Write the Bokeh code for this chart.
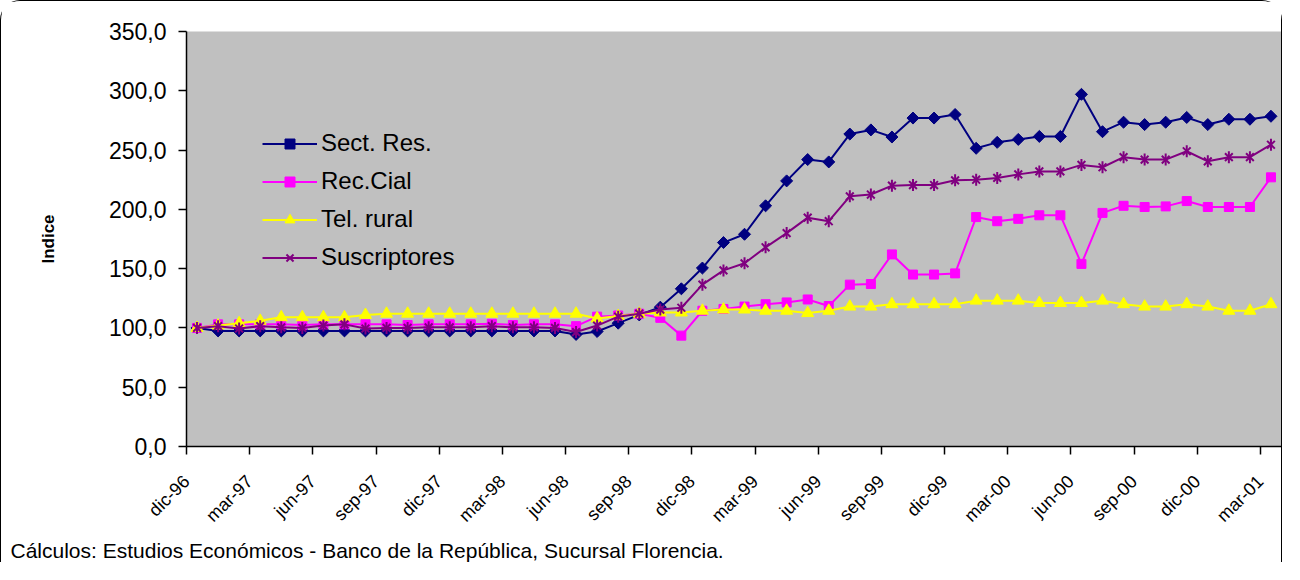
import math
from bokeh.plotting import figure
from bokeh.models import (Range1d, FixedTicker, LinearAxis, Legend, LegendItem, Title)
from bokeh.embed import file_html
from bokeh.resources import INLINE

# ---------------- data (monthly index, dic-96 .. mar-01) ----------------
sect_res = [100, 97.5, 97.5, 97.5, 97.5, 97.5, 97.5, 97.5, 97.5, 97.5,
            97.5, 97.5, 97.5, 97.5, 97.5, 97.5, 97.5, 97.5, 94.5, 97,
            104, 111, 117.5, 133, 150.5, 172, 179, 203, 224, 242,
            240, 263.5, 267, 261, 277, 277, 280, 251.5, 256.5, 259,
            261.5, 261.5, 297, 265.5, 273.5, 271.5, 273.5, 277.5, 271.5, 276,
            276, 278.5]
rec_cial = [100, 103, 103, 103, 103, 102.5, 103, 103, 103, 103,
            102.5, 103, 103, 103, 103.5, 102.5, 103, 103, 101.5, 109.5,
            110.5, 112, 108.5, 93.5, 114.5, 116, 118, 120, 121.5, 124,
            118.5, 136.5, 137, 162, 145, 145, 146, 193.5, 190, 192,
            195, 195, 154, 197, 203, 202, 202.5, 207, 202, 202,
            202, 227]
tel_rural = [100, 102, 104, 106, 109, 109, 109, 109, 111, 112,
             112, 112, 112, 112, 112, 112, 112, 112, 112, 108,
             110, 112, 113, 113, 114.5, 115.5, 115.5, 114.5, 114.5, 112.5,
             114.5, 118, 118, 120, 120, 120, 120, 123, 123, 123,
             121, 121, 121, 123, 120, 118, 118, 120, 118, 114.5,
             114.5, 120]
suscriptores = [100, 101.5, 99.5, 101.5, 100.5, 100, 102, 103, 99.5, 100,
                100, 100.5, 100.5, 100.5, 101.5, 100.5, 100.5, 100, 96.5, 102,
                109.5, 112, 115.5, 117, 136.5, 148.5, 154.5, 168, 180, 193,
                190, 211, 212.5, 220, 220.5, 220.5, 224.5, 225, 226.5, 229.5,
                232, 232, 237.5, 235.5, 244, 242, 242, 249, 240.5, 244,
                244, 254.5]

series_names = ["Sect. Res.", "Rec.Cial", "Tel. rural", "Suscriptores"]
tick_labels = ["dic-96", "mar-97", "jun-97", "sep-97", "dic-97", "mar-98",
               "jun-98", "sep-98", "dic-98", "mar-99", "jun-99", "sep-99",
               "dic-99", "mar-00", "jun-00", "sep-00", "dic-00", "mar-01"]
y_ticks = [0, 50, 100, 150, 200, 250, 300, 350]
y_tick_labels = ["0,0", "50,0", "100,0", "150,0", "200,0", "250,0", "300,0", "350,0"]
footnote = "Cálculos:  Estudios Económicos - Banco de la República, Sucursal Florencia."

FONT = "Liberation Sans"
n = len(sect_res)
x = list(range(n))

p = figure(width=1282, height=562, output_backend="svg", toolbar_location=None,
           x_range=Range1d(-0.5, n - 0.5), y_range=Range1d(0, 350),
           x_axis_type=None,
           min_border_left=185, min_border_right=2, min_border_top=30,
           min_border_bottom=117)
p.styles = {"border-top": "1.5px solid black", "border-left": "1.5px solid black",
            "border-right": "1.5px solid black", "border-top-left-radius": "20px",
            "border-top-right-radius": "20px"}
p.background_fill_color = "#C0C0C0"
p.border_fill_color = "white"
p.outline_line_color = None
p.grid.visible = False

# y axis
ya = p.yaxis[0]
ya.ticker = FixedTicker(ticks=y_ticks)
ya.major_label_overrides = {v: s for v, s in zip(y_ticks, y_tick_labels)}
ya.major_label_text_font = FONT
ya.major_label_text_font_size = "23px"
ya.major_label_text_color = "black"
ya.major_tick_out = 8
ya.major_tick_in = 0
ya.minor_tick_out = 0
ya.minor_tick_in = 0
ya.major_label_standoff = 12
ya.axis_line_width = 1.5
ya.major_tick_line_width = 1.5
ya.axis_label = "Indice"
ya.axis_label_text_font = FONT
ya.axis_label_text_font_style = "bold"
ya.axis_label_text_font_size = "17px"
ya.axis_label_text_color = "black"
ya.axis_label_standoff = 48

# x axis: tick marks between categories, a label every 3rd month
label_pos = [i - 0.5 for i in range(0, n, 3)]
xa = LinearAxis(ticker=FixedTicker(ticks=label_pos),
                major_label_overrides={v: s for v, s in zip(label_pos, tick_labels)},
                major_label_orientation=math.pi / 4,
                major_label_text_font=FONT, major_label_text_font_size="18px",
                major_label_text_color="black",
                major_tick_out=8, major_tick_in=0, minor_tick_out=0, minor_tick_in=0,
                major_label_standoff=24,
                axis_line_width=1.5, major_tick_line_width=1.5)
p.add_layout(xa, "below")

# footnote under the axis
p.add_layout(Title(text=footnote, align="left", offset=-176, standoff=2,
                   text_font=FONT, text_font_size="21px", text_font_style="normal",
                   text_color="black"), "below")

# series
items = []
ln = p.line(x, sect_res, line_color="#000080", line_width=2)
sc = p.scatter(x, sect_res, marker="square", angle=math.pi / 4, size=8.5,
               fill_color="#000080", line_color="#000080")
items.append(LegendItem(label=series_names[0], renderers=[ln, sc]))

ln = p.line(x, rec_cial, line_color="#FF00FF", line_width=2)
sc = p.scatter(x, rec_cial, marker="square", size=9,
               fill_color="#FF00FF", line_color="#FF00FF")
items.append(LegendItem(label=series_names[1], renderers=[ln, sc]))

ln = p.line(x, tel_rural, line_color="#FFFF00", line_width=2)
sc = p.scatter(x, tel_rural, marker="triangle", size=12,
               fill_color="#FFFF00", line_color="#FFFF00")
items.append(LegendItem(label=series_names[2], renderers=[ln, sc]))

col = "#800080"
ln = p.line(x, suscriptores, line_color=col, line_width=2)
sx = p.scatter(x, suscriptores, marker="x", size=11, line_color=col, line_width=2)
sd = p.scatter(x, suscriptores, marker="dash", angle=math.pi / 2, size=12,
               line_color=col, line_width=2)
items.append(LegendItem(label=series_names[3], renderers=[ln, sx, sd]))

legend = Legend(items=items, location=(76, 175), padding=0, margin=0,
                spacing=10, glyph_width=55, glyph_height=25, label_height=25,
                label_standoff=4, label_text_font=FONT, label_text_font_size="24px",
                label_text_color="black", border_line_color=None,
                background_fill_alpha=0)
p.add_layout(legend)

open("out.html", "w").write(file_html(p, INLINE))
